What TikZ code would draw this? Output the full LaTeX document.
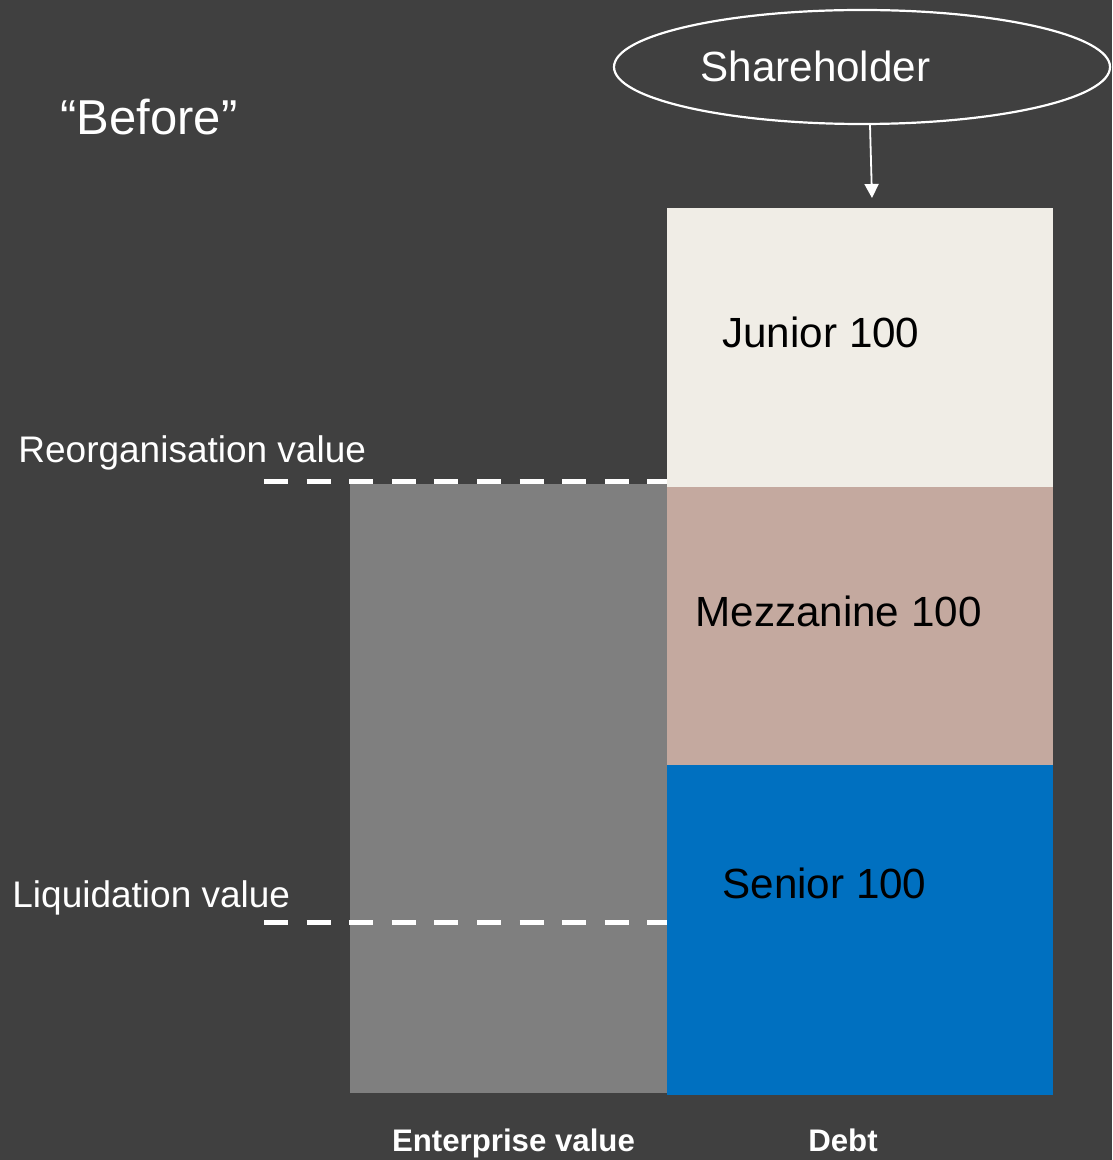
\documentclass[tikz,border=0pt]{standalone}
\usepackage{fontspec}
\setmainfont{Liberation Sans}
\usetikzlibrary{arrows.meta,positioning,shapes.geometric}
\definecolor{restbg}{HTML}{404040}
\definecolor{restjunior}{HTML}{F0EDE6}
\definecolor{restmezz}{HTML}{C4A99F}
\definecolor{restsenior}{HTML}{0070C0}
\definecolor{restgrey}{HTML}{7F7F7F}

\begin{document}
\begin{tikzpicture}[x=0.5pt,y=-0.5pt,
  tranche/.style={rectangle,minimum width=193pt,inner sep=0pt,outer sep=0pt},
  lbl/.style={inner sep=0pt,anchor=base west,font=\fontsize{21.1}{25}\selectfont},
  side/.style={inner sep=0pt,anchor=base west,text=white,font=\fontsize{18.5}{22}\selectfont},
  axis/.style={inner sep=0pt,anchor=base,text=white,font=\fontsize{15.6}{18}\selectfont\bfseries},
  level/.style={white,line width=2.5pt,dash pattern=on 12pt off 9.3pt},
  arrow/.style={-{Triangle[length=7pt,width=7pt]},white,line width=0.9pt}
]
\fill[restbg] (0,0) rectangle (1112,1160);
% debt stack
\node[tranche,fill=restjunior,minimum height=139.5pt,anchor=north west] (junior) at (667,208) {};
\node[tranche,fill=restmezz,minimum height=139pt,below=0pt of junior] (mezz) {};
\node[tranche,fill=restsenior,minimum height=165pt,below=0pt of mezz] (senior) {};
\node[rectangle,fill=restgrey,minimum width=158.5pt,minimum height=304.5pt,inner sep=0pt,anchor=south east] (ev) at ([yshift=1pt]senior.south west) {};
\node[lbl] (juniortxt) at (722,347) {Junior 100};
\node[lbl] (mezztxt) at (695,626) {Mezzanine 100};
\node[lbl] (seniortxt) at (722,898) {Senior 100};
% shareholder
\node[ellipse,draw=white,line width=1.1pt,minimum width=248pt,minimum height=57pt,inner sep=0pt] (holder) at (862,67) {};
\node[lbl,text=white] (holdertxt) at (700,82) {Shareholder};
\coordinate (holdertip) at (872,198);
\draw[arrow] ([xshift=4pt]holder.south) -- (holdertip);
% value levels
\coordinate (reorgend) at (264,481);
\coordinate (liqend) at (264,922);
\draw[level] (reorgend) -- (reorgend -| junior.west);
\draw[level] (liqend) -- (liqend -| senior.west);
\node[side] (reorg) at (18,462) {Reorganisation value};
\node[side] (liq) at (12,907) {Liquidation value};
\node[lbl,text=white,font=\fontsize{24.5}{29}\selectfont] (before) at (60,135) {“Before”};
\node[axis] (evtxt) at (513.5,1151) {Enterprise value};
\node[axis] (debttxt) at (843,1151) {Debt};
\end{tikzpicture}
\end{document}
